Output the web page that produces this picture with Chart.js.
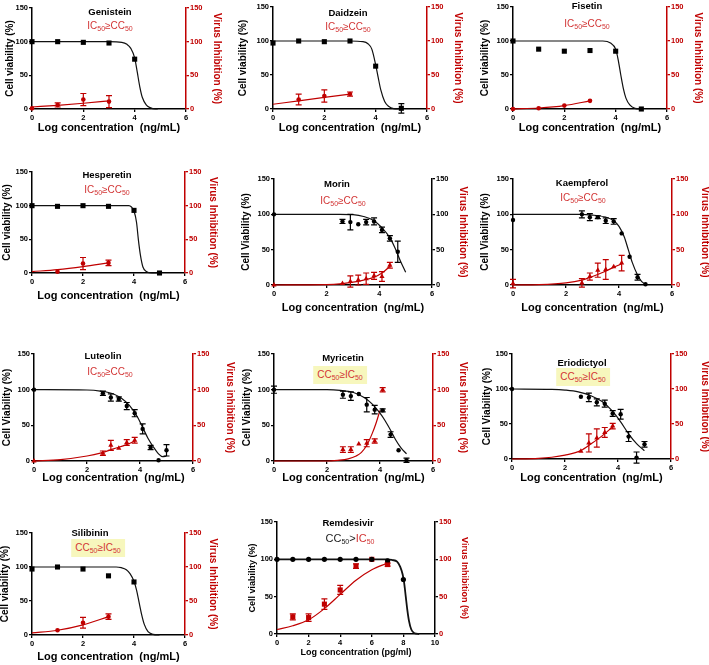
<!DOCTYPE html>
<html>
<head>
<meta charset="utf-8">
<script src="https://cdn.jsdelivr.net/npm/chart.js@4.4.1/dist/chart.umd.min.js"></script>
<style>
  body { margin: 0; background: #fff; width: 709px; height: 665px; position: relative; overflow: hidden;
         font-family: "Liberation Sans", Arial, sans-serif; }
  canvas { position: absolute; }
  .lbl { position: absolute; transform: translate(-50%, -50%); white-space: nowrap; line-height: 1; }
  .ttl { font-weight: bold; font-size: 9.5px; color: #000; }
  .ann { font-size: 10px; color: #d23434; }
  .ann sub { font-size: 7px; vertical-align: -2px; line-height: 0; }
  .hl { background: #f7f7bd; padding: 3px 4px 4px 4px; }
</style>
</head>
<body>
<script>
/* Dose-response panels: cell viability (black, left axis) and virus inhibition (red, right axis) */

/* Genistein */
var genX = [0, 1, 2, 3, 4];
var genViab = [100, 100, 99, 98, 74];
var genInhX = [0, 1, 2, 3];
var genInh = [1, 6, 14, 11];
var genInhErr = [0, 3, 9, 9];
var genFitX = [0, 3, 3.5, 3.7, 3.85, 4, 4.1, 4.2, 4.3, 4.45, 4.6, 4.8, 4.9];
var genFitViab = [100, 100, 99, 96, 90, 76, 55, 33, 17, 6, 2, 0, 0];
var genFitInhX = [0, 1, 2, 3];
var genFitInh = [3, 5.5, 8.5, 12];

/* Daidzein */
var daiX = [0, 1, 2, 3, 4, 5];
var daiViab = [97, 100, 99, 100, 63, 1];
var daiViabErr = [0, 0, 0, 0, 0, 7];
var daiInhX = [1, 2, 3];
var daiInh = [14, 19, 22];
var daiInhErr = [8, 9, 3];
var daiFitX = [0, 3, 3.5, 3.7, 3.85, 4, 4.1, 4.2, 4.35, 4.5, 4.7, 4.9];
var daiFitViab = [100, 100, 99, 96, 88, 65, 46, 28, 11, 4, 0.5, 0];
var daiFitInhX = [0, 1, 2, 3];
var daiFitInh = [7, 12, 17, 22];

/* Fisetin */
var fisX = [0, 1, 2, 3, 4, 5];
var fisViab = [100, 88, 85, 86, 85, 0];
var fisInhX = [0, 1, 2, 3];
var fisInh = [0, 1, 5, 12];
var fisFitX = [0, 3.5, 3.8, 4.0, 4.1, 4.2, 4.3, 4.4, 4.55, 4.75, 5];
var fisFitViab = [100, 100, 97, 88, 72, 50, 30, 16, 6, 1, 0];
var fisFitInhX = [0, 1, 2, 3];
var fisFitInh = [0, 1.5, 5, 12];

/* Hesperetin */
var hesX = [0, 1, 2, 3, 4, 5];
var hesViab = [100, 99, 100, 99, 93, 0];
var hesInhX = [1, 2, 3];
var hesInh = [2, 14, 15];
var hesInhErr = [0, 9, 4];
var hesFitX = [0, 3.8, 3.9, 4.0, 4.1, 4.17, 4.25, 4.35, 4.5, 4.7, 4.9];
var hesFitViab = [100, 100, 98, 92, 75, 50, 27, 9, 2, 0, 0];
var hesFitInhX = [0, 1, 2, 3];
var hesFitInh = [2, 5, 9.5, 15];

/* Morin */
var morX = [0, 2.6, 2.9, 3.2, 3.5, 3.8, 4.1, 4.4, 4.7];
var morViab = [100, 90, 89, 86, 89, 90, 78, 66, 47];
var morViabErr = [0, 3, 11, 0, 4, 5, 4, 4, 15];
var morInhX = [0, 2.6, 2.9, 3.2, 3.5, 3.8, 4.1, 4.4];
var morInh = [0, 2, 5, 7, 9, 13, 12, 28];
var morInhErr = [0, 0, 8, 7, 8, 5, 7, 4];
var morFitX = [0, 2.5, 3, 3.4, 3.8, 4.1, 4.4, 4.6, 4.8, 5];
var morFitViab = [100, 100, 99.5, 97, 91, 81, 67, 52, 34, 18];
var morFitInhX = [0, 2, 2.6, 3, 3.4, 3.8, 4.1, 4.3, 4.45];
var morFitInh = [0, 0.5, 2, 4, 7, 11, 17, 23, 29];

/* Kaempferol */
var kaeX = [0, 2.6, 2.9, 3.2, 3.5, 3.8, 4.1, 4.4, 4.7, 5];
var kaeViab = [92, 100, 96, 96, 91, 90, 73, 40, 11, 1];
var kaeViabErr = [0, 5, 5, 2, 4, 4, 0, 0, 4, 0];
var kaeInhX = [0, 2.6, 2.9, 3.2, 3.5, 3.8, 4.1];
var kaeInh = [2, 3, 12, 21, 22, 26, 31];
var kaeInhErr = [6, 6, 5, 10, 14, 0, 11];
var kaeFitX = [0, 2.5, 3, 3.5, 3.8, 4, 4.2, 4.35, 4.5, 4.7, 4.85, 5];
var kaeFitViab = [100, 100, 99, 96, 91, 83, 68, 50, 32, 14, 5, 1];
var kaeFitInhX = [0, 1, 2, 2.6, 3, 3.4, 3.8, 4.1];
var kaeFitInh = [0, 0.5, 3, 7, 12, 18, 25, 30];

/* Luteolin */
var lutX = [0, 2.6, 2.9, 3.2, 3.5, 3.8, 4.1, 4.4, 4.7, 5];
var lutViab = [100, 95, 89, 87, 77, 67, 45, 19, 1, 15];
var lutViabErr = [0, 3, 5, 3, 5, 5, 7, 3, 0, 8];
var lutInhX = [0, 2.6, 2.9, 3.2, 3.5, 3.8];
var lutInh = [0, 11, 22, 18, 26, 29];
var lutInhErr = [0, 3, 7, 0, 4, 4];
var lutFitX = [0, 2, 2.5, 3, 3.3, 3.6, 3.9, 4.1, 4.3, 4.5, 4.7, 4.85, 5];
var lutFitViab = [100, 99.5, 98, 94, 88, 78, 62, 47, 32, 20, 10, 6, 7];
var lutFitInhX = [0, 1, 2, 2.5, 3, 3.5, 3.8];
var lutFitInh = [0, 2, 7, 11, 17, 23, 28];

/* Myricetin */
var myrX = [0, 2.6, 2.9, 3.2, 3.5, 3.8, 4.1, 4.4, 4.7, 5];
var myrViab = [100, 93, 91, 94, 79, 72, 71, 37, 15, 1];
var myrViabErr = [5, 5, 6, 0, 10, 6, 2, 4, 0, 3];
var myrInhX = [2.6, 2.9, 3.2, 3.5, 3.8, 4.1];
var myrInh = [16, 16, 24, 25, 28, 100];
var myrInhErr = [4, 4, 0, 5, 3, 3];
var myrFitX = [0, 2, 2.5, 3, 3.4, 3.7, 4, 4.2, 4.4, 4.6, 4.8, 5];
var myrFitViab = [100, 100, 99, 96, 89, 80, 67, 56, 43, 29, 18, 10];
var myrFitInhX = [0, 2, 2.4, 2.8, 3.1, 3.3, 3.5, 3.7, 3.85, 4];
var myrFitInh = [0, 0, 1, 3, 7, 12, 22, 38, 53, 71];

/* Eriodictyol */
var eriX = [0, 2.6, 2.9, 3.2, 3.5, 3.8, 4.1, 4.4, 4.7, 5];
var eriViab = [100, 89, 88, 81, 79, 65, 64, 32, 2, 21];
var eriViabErr = [0, 0, 6, 5, 5, 4, 7, 7, 8, 4];
var eriInhX = [2.6, 2.9, 3.2, 3.5, 3.8];
var eriInh = [11, 23, 30, 38, 47];
var eriInhErr = [0, 13, 13, 7, 4];
var eriFitX = [0, 1.5, 2, 2.5, 3, 3.4, 3.8, 4.1, 4.4, 4.7, 4.9, 5];
var eriFitViab = [100, 99.5, 98.5, 96, 90, 82, 68, 53, 36, 22, 15, 12];
var eriFitInhX = [0, 1, 1.5, 2, 2.6, 3, 3.4, 3.8];
var eriFitInh = [0, 1, 2.5, 5.5, 12, 22, 33, 46];

/* Silibinin */
var silX = [0, 1, 2, 3, 4];
var silViab = [97, 100, 97, 87, 78];
var silInhX = [1, 2, 3];
var silInh = [7, 18, 27];
var silInhErr = [0, 8, 4];
var silFitX = [0, 3.3, 3.5, 3.7, 3.85, 4, 4.1, 4.2, 4.3, 4.4, 4.55, 4.75, 5];
var silFitViab = [100, 100, 99, 96, 90, 79, 66, 48, 30, 16, 5, 1, 0];
var silFitInhX = [0, 1, 2, 3];
var silFitInh = [3, 7, 15, 27];

/* Remdesivir (pg/ml) */
var remX = [0, 1, 2, 3, 4, 5, 6, 7, 8];
var remViab = [100, 100, 100, 100, 100, 100, 100, 98, 73];
var remInhX = [1, 2, 3, 4, 5, 6, 7];
var remInh = [23, 22, 40, 59, 91, 100, 93];
var remInhErr = [4, 5, 7, 6, 3, 0, 2];
var remFitX = [0, 7, 7.3, 7.6, 7.8, 7.95, 8.05, 8.15, 8.25, 8.35, 8.5, 8.7, 9];
var remFitViab = [100, 100, 99, 97, 90, 80, 68, 50, 32, 18, 6, 1, 0];
var remFitInhX = [0, 1, 2, 3, 4, 5, 6, 7];
var remFitInh = [6, 11, 19, 34, 53, 72, 86, 95];

/* Axis tick labels */
var yTicks = [0, 50, 100, 150];
var xTicksNg = [0, 2, 4, 6];
var xTicksPg = [0, 2, 4, 6, 8, 10];

var RED = '#c00000';
var BLACK = '#000000';
var FONT = "'Liberation Sans', Arial, sans-serif";
Chart.defaults.font.family = FONT;

var IC_CC = 'IC<sub>50</sub>\u2265CC<sub>50</sub>';
var CC_IC = 'CC<sub>50</sub>\u2265IC<sub>50</sub>';

/* Panel layout: chart area box (cl,ct,cr,cb), axis title centres (lt,rt,bt), heading positions */
var panels = [
  { title: 'Genistein', ann: IC_CC, tx: 110, ty: 12, ax: 110, ay: 26, cl: 32, ct: 8, cr: 186, cb: 109, lt: 10, rt: 217, bt: 128,
    kind: 'sq', x: genX, v: genViab, ve: null, ix: genInhX, iv: genInh, ie: genInhErr, fx: genFitX, fv: genFitViab, gx: genFitInhX, gv: genFitInh },
  { title: 'Daidzein', ann: IC_CC, tx: 348, ty: 13, ax: 348, ay: 27, cl: 273, ct: 7, cr: 427, cb: 109, lt: 243, rt: 458, bt: 128,
    kind: 'sq', x: daiX, v: daiViab, ve: daiViabErr, ix: daiInhX, iv: daiInh, ie: daiInhErr, fx: daiFitX, fv: daiFitViab, gx: daiFitInhX, gv: daiFitInh },
  { title: 'Fisetin', ann: IC_CC, tx: 587, ty: 6, ax: 587, ay: 24, cl: 513, ct: 7, cr: 667, cb: 109, lt: 485, rt: 698, bt: 128,
    kind: 'sq', x: fisX, v: fisViab, ve: null, ix: fisInhX, iv: fisInh, ie: null, fx: fisFitX, fv: fisFitViab, gx: fisFitInhX, gv: fisFitInh },
  { title: 'Hesperetin', ann: IC_CC, tx: 107, ty: 175, ax: 107, ay: 190, cl: 32, ct: 172, cr: 185, cb: 273, lt: 7, rt: 213, bt: 296,
    kind: 'sq', x: hesX, v: hesViab, ve: null, ix: hesInhX, iv: hesInh, ie: hesInhErr, fx: hesFitX, fv: hesFitViab, gx: hesFitInhX, gv: hesFitInh },
  { title: 'Morin', ann: IC_CC, tx: 337, ty: 184, ax: 343, ay: 201, cl: 274, ct: 179, cr: 432, cb: 285, lt: 246, rt: 463, bt: 308,
    kind: 'ci', rightBlack: true, capV: true, x: morX, v: morViab, ve: morViabErr, ix: morInhX, iv: morInh, ie: morInhErr, fx: morFitX, fv: morFitViab, gx: morFitInhX, gv: morFitInh },
  { title: 'Kaempferol', ann: IC_CC, tx: 582, ty: 183, ax: 583, ay: 198, cl: 513, ct: 179, cr: 672, cb: 285, lt: 485, rt: 705, bt: 308,
    kind: 'ci', capV: true, x: kaeX, v: kaeViab, ve: kaeViabErr, ix: kaeInhX, iv: kaeInh, ie: kaeInhErr, fx: kaeFitX, fv: kaeFitViab, gx: kaeFitInhX, gv: kaeFitInh },
  { title: 'Luteolin', ann: IC_CC, tx: 103, ty: 356, ax: 110, ay: 372, cl: 34, ct: 354, cr: 193, cb: 461, lt: 7, rt: 230, bt: 478,
    kind: 'ci', capV: true, lower: true, x: lutX, v: lutViab, ve: lutViabErr, ix: lutInhX, iv: lutInh, ie: lutInhErr, fx: lutFitX, fv: lutFitViab, gx: lutFitInhX, gv: lutFitInh },
  { title: 'Myricetin', ann: CC_IC, hl: true, tx: 343, ty: 358, ax: 340, ay: 375, cl: 274, ct: 354, cr: 433, cb: 461, lt: 247, rt: 463, bt: 478,
    kind: 'ci', capV: true, x: myrX, v: myrViab, ve: myrViabErr, ix: myrInhX, iv: myrInh, ie: myrInhErr, fx: myrFitX, fv: myrFitViab, gx: myrFitInhX, gv: myrFitInh },
  { title: 'Eriodictyol', ann: CC_IC, hl: true, tx: 582, ty: 363, ax: 583, ay: 377, cl: 512, ct: 354, cr: 671, cb: 459, lt: 487, rt: 705, bt: 478,
    kind: 'ci', capV: true, x: eriX, v: eriViab, ve: eriViabErr, ix: eriInhX, iv: eriInh, ie: eriInhErr, fx: eriFitX, fv: eriFitViab, gx: eriFitInhX, gv: eriFitInh },
  { title: 'Silibinin', ann: CC_IC, hl: true, tx: 90, ty: 533, ax: 98, ay: 548, cl: 32, ct: 533, cr: 185, cb: 635, lt: 5, rt: 213, bt: 657,
    kind: 'sq', x: silX, v: silViab, ve: null, ix: silInhX, iv: silInh, ie: silInhErr, fx: silFitX, fv: silFitViab, gx: silFitInhX, gv: silFitInh },
  { title: 'Remdesivir', ann: '<span style="color:#222">CC<sub>50</sub>&gt;</span>IC<sub>50</sub>', tx: 348, ty: 523, ax: 350, ay: 538,
    cl: 277, ct: 522, cr: 435, cb: 634, lt: 252, rt: 465, bt: 653,
    kind: 'rem', x: remX, v: remViab, ve: null, ix: remInhX, iv: remInh, ie: remInhErr, fx: remFitX, fv: remFitViab, gx: remFitInhX, gv: remFitInh }
];

/* Error bars drawn through the chart scales */
var errorBars = {
  id: 'errorBars',
  afterDatasetsDraw: function(chart) {
    var ctx = chart.ctx;
    chart.data.datasets.forEach(function(ds) {
      if (!ds.errs) return;
      var xs = chart.scales.x, ys = chart.scales[ds.yAxisID];
      ctx.save();
      ctx.strokeStyle = ds.borderColor;
      ctx.lineWidth = 1.2;
      ds.data.forEach(function(pt, j) {
        var e = ds.errs[j];
        if (!e) return;
        var px = xs.getPixelForValue(pt.x);
        var y1 = ys.getPixelForValue(pt.y - e), y2 = ys.getPixelForValue(pt.y + e);
        ctx.beginPath();
        ctx.moveTo(px, y1); ctx.lineTo(px, y2);
        ctx.moveTo(px - 3, y1); ctx.lineTo(px + 3, y1);
        ctx.moveTo(px - 3, y2); ctx.lineTo(px + 3, y2);
        ctx.stroke();
      });
      ctx.restore();
    });
  }
};

function pts(xs, ys) {
  return xs.map(function(x, i) { return { x: x, y: ys[i] }; });
}

function addLabel(html, x, y, cls) {
  var d = document.createElement('div');
  d.className = 'lbl ' + cls;
  d.innerHTML = html;
  d.style.left = x + 'px';
  d.style.top = y + 'px';
  document.body.appendChild(d);
}

function buildPanel(p) {
  var rem = p.kind === 'rem';
  var yTitleSize = rem ? 9 : 10;
  var xTitleSize = rem ? 9 : 11;
  var left = Math.round(p.lt - yTitleSize * 0.6);
  var right = Math.round(p.rt + yTitleSize * 0.6);
  var top = p.ct - 10;
  var bottom = Math.round(p.bt + xTitleSize * 0.6);

  var cv = document.createElement('canvas');
  cv.width = right - left;
  cv.height = bottom - top;
  cv.style.left = left + 'px';
  cv.style.top = top + 'px';
  document.body.appendChild(cv);

  var blackStyle = p.kind === 'sq' ? 'rect' : 'circle';
  var blackR = p.kind === 'sq' ? 3.6 : (rem ? 2.6 : 2.2);
  var redStyle = p.kind === 'sq' ? 'circle' : (rem ? 'rect' : 'triangle');
  var redR = p.kind === 'sq' ? 2.3 : (rem ? 3.6 : 3);
  var xMax = rem ? 10 : 6;
  var xTickVals = rem ? xTicksPg : xTicksNg;
  var rightColor = p.rightBlack ? BLACK : RED;
  var rightTickColor = (p.rightBlack) ? BLACK : RED;
  var rightLineColor = (p.rightBlack || rem) ? BLACK : RED;
  var tickFont = { size: 7.5, weight: 'bold', family: FONT };

  new Chart(cv.getContext('2d'), {
    type: 'scatter',
    data: {
      datasets: [
        { data: pts(p.x, p.v), yAxisID: 'y', pointStyle: blackStyle, pointRadius: blackR,
          backgroundColor: BLACK, borderColor: BLACK, borderWidth: 0, errs: p.ve, clip: false },
        { data: pts(p.ix, p.iv), yAxisID: 'y2', pointStyle: redStyle, pointRadius: redR,
          backgroundColor: RED, borderColor: RED, borderWidth: 0, errs: p.ie, clip: false },
        { data: pts(p.fx, p.fv), yAxisID: 'y', showLine: true, pointRadius: 0, borderColor: '#111',
          borderWidth: rem ? 1.8 : 1.2, cubicInterpolationMode: 'monotone', clip: false },
        { data: pts(p.gx, p.gv), yAxisID: 'y2', showLine: true, pointRadius: 0, borderColor: RED,
          borderWidth: 1.2, cubicInterpolationMode: 'monotone', clip: false }
      ]
    },
    options: {
      responsive: false,
      animation: false,
      events: [],
      layout: { padding: { top: 10, left: 0, right: 0, bottom: 0 } },
      plugins: { legend: { display: false }, tooltip: { enabled: false } },
      scales: {
        x: {
          type: 'linear', min: 0, max: xMax,
          afterBuildTicks: function(s) { s.ticks = xTickVals.map(function(v) { return { value: v }; }); },
          ticks: { font: tickFont, color: BLACK, padding: 1, maxRotation: 0 },
          grid: { drawOnChartArea: false, drawTicks: true, tickLength: 3, color: BLACK, lineWidth: 1.3 },
          border: { color: BLACK, width: 1.5 },
          title: { display: true, text: rem ? 'Log concentration (pg/ml)' : 'Log concentration  (ng/mL)',
                   font: { size: xTitleSize, weight: 'bold', family: FONT }, color: BLACK, padding: 0 },
          afterFit: function(s) { s.height = bottom - p.cb; }
        },
        y: {
          position: 'left', min: 0, max: 150,
          afterBuildTicks: function(s) { s.ticks = yTicks.map(function(v) { return { value: v }; }); },
          ticks: { font: tickFont, color: BLACK, padding: 1 },
          grid: { drawOnChartArea: false, drawTicks: true, tickLength: 3, color: BLACK, lineWidth: 1.3 },
          border: { color: BLACK, width: 1.5 },
          title: { display: true, text: p.kind === 'ci' ? 'Cell Viability (%)' : 'Cell viability (%)',
                   font: { size: yTitleSize, weight: 'bold', family: FONT }, color: BLACK, padding: 0 },
          afterFit: function(s) { s.width = p.cl - left; }
        },
        y2: {
          position: 'right', min: 0, max: 150,
          afterBuildTicks: function(s) { s.ticks = yTicks.map(function(v) { return { value: v }; }); },
          ticks: { font: tickFont, color: rightTickColor, padding: 1 },
          grid: { drawOnChartArea: false, drawTicks: true, tickLength: 3, color: rightLineColor, lineWidth: 1.3 },
          border: { color: rightLineColor, width: 1.5 },
          title: { display: true, text: p.lower ? 'Virus inhibition (%)' : 'Virus Inhibition (%)',
                   font: { size: yTitleSize, weight: 'bold', family: FONT }, color: RED, padding: 0 },
          afterFit: function(s) { s.width = right - p.cr; }
        }
      }
    },
    plugins: [errorBars]
  });

  addLabel(p.title, p.tx, p.ty, 'ttl');
  var annHtml = p.hl ? '<span class="hl">' + p.ann + '</span>' : p.ann;
  addLabel(annHtml, p.ax, p.ay, 'ann');
}

panels.forEach(buildPanel);

/* Remdesivir heading is a little larger */
var labels = document.querySelectorAll('.lbl');
labels[labels.length - 1].style.fontSize = '11px';
</script>
</body>
</html>
